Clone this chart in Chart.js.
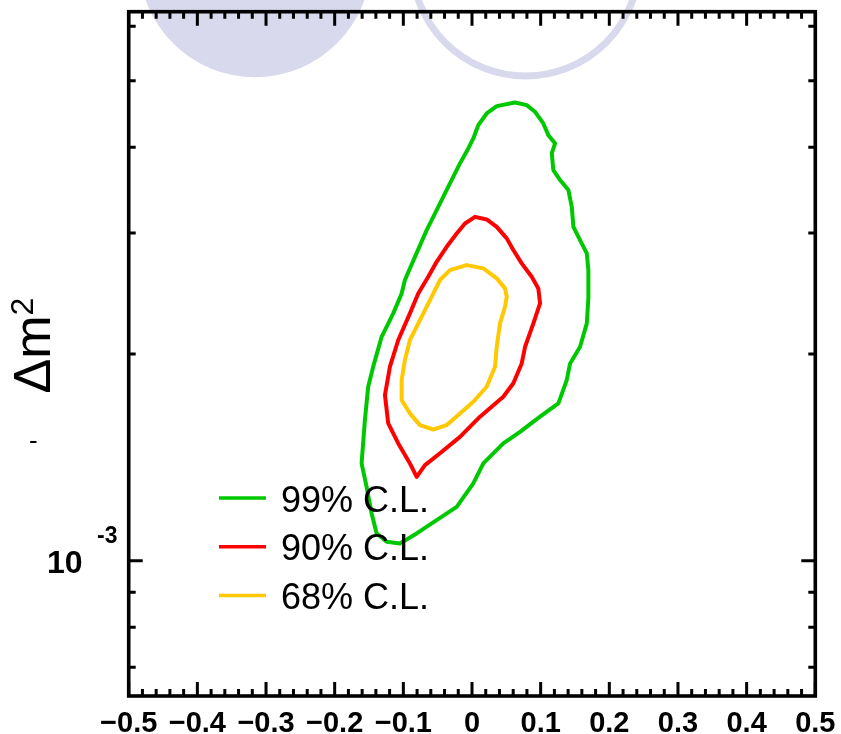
<!DOCTYPE html>
<html>
<head>
<meta charset="utf-8">
<script src="https://cdn.jsdelivr.net/npm/chart.js@4.4.0/dist/chart.umd.min.js"></script>
<style>
html,body{margin:0;padding:0;background:#ffffff;}
#wrap{width:841px;height:734px;position:relative;}
canvas{display:block;}
</style>
</head>
<body>
<div id="wrap"><canvas id="c" width="841" height="734"></canvas></div>
<script>
// ---------------- data ----------------
const seriesLabels = ["99% C.L.", "90% C.L.", "68% C.L."];

// 99% C.L. contour (x = parameter, y = Δm²)
const cl99X = [0.0627,0.0797,0.0918,0.1039,0.1112,0.1210,0.1162,0.1185,0.1283,0.1404,
  0.1453,0.1477,0.1574,0.1672,0.1695,0.1695,0.1672,0.1574,0.1429,0.1380,
  0.1258,0.0991,0.0700,0.0456,0.0165,0.0019,-0.0223,-0.0515,-0.0806,-0.1050,
  -0.1243,-0.1389,-0.1462,-0.1535,-0.1608,-0.1560,-0.1512,-0.1439,-0.1316,-0.1147,
  -0.1025,-0.0977,-0.0831,-0.0660,-0.0491,-0.0321,-0.0175,-0.0054,0.0019,0.0092,
  0.0214,0.0360];
const cl99Y = [4.647e-3,4.606e-3,4.504e-3,4.332e-3,4.165e-3,4.052e-3,3.917e-3,3.705e-3,3.583e-3,3.465e-3,
  3.276e-3,3.063e-3,2.930e-3,2.803e-3,2.649e-3,2.412e-3,2.216e-3,2.049e-3,1.938e-3,1.832e-3,
  1.695e-3,1.621e-3,1.541e-3,1.482e-3,1.386e-3,1.296e-3,1.198e-3,1.146e-3,1.096e-3,1.060e-3,
  1.066e-3,1.096e-3,1.172e-3,1.281e-3,1.386e-3,1.603e-3,1.792e-3,1.917e-3,2.119e-3,2.292e-3,
  2.450e-3,2.563e-3,2.770e-3,3.029e-3,3.276e-3,3.543e-3,3.789e-3,3.984e-3,4.119e-3,4.307e-3,
  4.479e-3,4.591e-3];

// 90% C.L. contour
const cl90X = [0.0044,0.0214,0.0360,0.0506,0.0602,0.0724,0.0870,0.0966,0.0991,0.0894,
  0.0773,0.0724,0.0602,0.0456,0.0117,-0.0175,-0.0466,-0.0685,-0.0806,-0.0904,
  -0.1074,-0.1220,-0.1268,-0.1195,-0.1074,-0.0904,-0.0783,-0.0637,-0.0515,-0.0369,
  -0.0223,-0.0102];
const cl90Y = [3.167e-3,3.140e-3,3.063e-3,2.947e-3,2.834e-3,2.710e-3,2.591e-3,2.492e-3,2.370e-3,2.216e-3,
  2.049e-3,1.938e-3,1.813e-3,1.733e-3,1.621e-3,1.515e-3,1.434e-3,1.378e-3,1.325e-3,1.386e-3,
  1.482e-3,1.585e-3,1.743e-3,1.917e-3,2.096e-3,2.292e-3,2.450e-3,2.591e-3,2.724e-3,2.865e-3,
  2.996e-3,3.098e-3];

// 68% C.L. contour
const cl68X = [-0.0077,0.0165,0.0360,0.0481,0.0506,0.0481,0.0408,0.0360,0.0335,0.0214,
  0.0019,-0.0175,-0.0369,-0.0564,-0.0758,-0.0904,-0.1025,-0.1025,-0.0977,-0.0904,
  -0.0758,-0.0612,-0.0466,-0.0321];
const cl68Y = [2.694e-3,2.665e-3,2.577e-3,2.492e-3,2.423e-3,2.343e-3,2.216e-3,2.049e-3,1.917e-3,1.792e-3,
  1.704e-3,1.639e-3,1.576e-3,1.553e-3,1.576e-3,1.639e-3,1.714e-3,1.832e-3,1.960e-3,2.096e-3,
  2.240e-3,2.396e-3,2.563e-3,2.649e-3];

// partially visible circles at top edge (centres)
const filledCircleX = [-0.316];
const filledCircleY = [7.46e-3];
const openCircleX = [0.078];
const openCircleY = [7.43e-3];

// axes
const xMin = -0.5, xMax = 0.5;
const yMin = 6.356e-4, yMax = 6.30e-3;
const xMajorTicks = [-0.5,-0.4,-0.3,-0.2,-0.1,0,0.1,0.2,0.3,0.4,0.5];
const xTickLabels = ["\u22120.5","\u22120.4","\u22120.3","\u22120.2","\u22120.1","0","0.1","0.2","0.3","0.4","0.5"];
const xMinorStep = 0.02;
const yMajorTicks = [1e-3];
const yMinorTicks = [7e-4,8e-4,9e-4,2e-3,3e-3,4e-3,5e-3,6e-3];
const yTickBase = "10";
const yTickExp = "-3";
const yTitleMain = "\u0394m";
const yTitleSup = "2";

// ---------------- build ----------------
function closed(xs, ys){
  const pts = xs.map((v,i)=>({x:v, y:ys[i]}));
  pts.push({x:xs[0], y:ys[0]});
  return pts;
}
const colors = ["#00c800", "#ff0000", "#ffc800"];
const lavender = "#d9d9ed";

const contourDS = (data, color, label) => ({
  type:'scatter', label, data, showLine:true, borderColor:color, backgroundColor:color,
  borderWidth:4, pointRadius:0, pointHoverRadius:0, tension:0,
  borderJoinStyle:'round', borderCapStyle:'round'
});

const framePlugin = {
  id:'framePlugin',
  afterDraw(chart){
    const ctx = chart.ctx;
    const a = chart.chartArea;
    const xs = chart.scales.x, ys = chart.scales.y;
    ctx.save();
    ctx.strokeStyle = '#000';
    ctx.fillStyle = '#000';
    ctx.lineCap = 'butt';
    const major = 14, minor = 7;
    ctx.lineWidth = 3;
    ctx.beginPath();
    // x ticks (bottom & top, pointing inward)
    const nMinor = Math.round((xMax - xMin)/xMinorStep);
    for(let i=0;i<=nMinor;i++){
      const v = xMin + i*xMinorStep;
      const px = xs.getPixelForValue(v);
      const isMajor = (i % 5) === 0;
      const L = isMajor ? major : minor;
      ctx.moveTo(px, a.bottom); ctx.lineTo(px, a.bottom - L);
      ctx.moveTo(px, a.top); ctx.lineTo(px, a.top + L);
    }
    // y ticks (left & right)
    yMajorTicks.forEach(v=>{
      const py = ys.getPixelForValue(v);
      ctx.moveTo(a.left, py); ctx.lineTo(a.left + major, py);
      ctx.moveTo(a.right, py); ctx.lineTo(a.right - major, py);
    });
    yMinorTicks.forEach(v=>{
      const py = ys.getPixelForValue(v);
      ctx.moveTo(a.left, py); ctx.lineTo(a.left + minor, py);
      ctx.moveTo(a.right, py); ctx.lineTo(a.right - minor, py);
    });
    ctx.stroke();
    // frame
    ctx.lineWidth = 3.6;
    ctx.strokeRect(a.left, a.top, a.right - a.left, a.bottom - a.top);

    // x tick labels
    ctx.font = 'bold 29px "Liberation Sans", Arial, sans-serif';
    ctx.textAlign = 'center';
    ctx.textBaseline = 'alphabetic';
    xMajorTicks.forEach((v,i)=>{
      ctx.fillText(xTickLabels[i], xs.getPixelForValue(v), a.bottom + 35.5);
    });

    // y tick label 10^-3
    const p3 = ys.getPixelForValue(yMajorTicks[0]);
    ctx.textAlign = 'left';
    ctx.font = 'bold 32px "Liberation Sans", Arial, sans-serif';
    ctx.fillText(yTickBase, 47, p3 + 12.5);
    ctx.font = 'bold 23px "Liberation Sans", Arial, sans-serif';
    ctx.fillText(yTickExp, 97, p3 - 17.5);

    // y title (rotated)
    ctx.save();
    ctx.translate(50, 393.5);
    ctx.rotate(-Math.PI/2);
    ctx.font = '52px "Liberation Sans", Arial, sans-serif';
    ctx.textAlign = 'left';
    ctx.fillText(yTitleMain, 0, 0);
    const w = ctx.measureText(yTitleMain).width;
    ctx.font = '32px "Liberation Sans", Arial, sans-serif';
    ctx.fillText(yTitleSup, w, -17);
    ctx.restore();

    // small stray mark left of the axis title
    ctx.font = '26px "Liberation Sans", Arial, sans-serif';
    ctx.fillText("-", 29, 449);

    // legend
    ctx.font = '36px "Liberation Sans", Arial, sans-serif';
    ctx.textAlign = 'left';
    seriesLabels.forEach((lab,i)=>{
      const ly = 498 + i*48.7;
      ctx.strokeStyle = colors[i];
      ctx.lineWidth = 3.5;
      ctx.beginPath();
      ctx.moveTo(219, ly); ctx.lineTo(266, ly);
      ctx.stroke();
      ctx.fillStyle = '#000';
      ctx.fillText(lab, 281, ly + 13.5);
    });
    ctx.restore();
  }
};

new Chart(document.getElementById('c'), {
  type:'scatter',
  data:{
    datasets:[
      contourDS(closed(cl99X, cl99Y), colors[0], seriesLabels[0]),
      contourDS(closed(cl90X, cl90Y), colors[1], seriesLabels[1]),
      contourDS(closed(cl68X, cl68Y), colors[2], seriesLabels[2]),
      { type:'scatter', label:'open', data: openCircleX.map((v,i)=>({x:v,y:openCircleY[i]})),
        pointRadius:113.5, pointHoverRadius:113.5, pointBorderWidth:7, pointBorderColor:lavender,
        pointBackgroundColor:'rgba(0,0,0,0)', clip:false },
      { type:'scatter', label:'filled', data: filledCircleX.map((v,i)=>({x:v,y:filledCircleY[i]})),
        pointRadius:116, pointHoverRadius:116, pointBorderWidth:0, pointBackgroundColor:lavender,
        pointBorderColor:lavender, clip:false }
    ]
  },
  options:{
    responsive:false,
    animation:false,
    devicePixelRatio:1,
    events:[],
    layout:{ autoPadding:false, padding:{ left:128.7, right:25.7, top:11.7, bottom:38 } },
    plugins:{ legend:{display:false}, tooltip:{enabled:false}, title:{display:false} },
    scales:{
      x:{ type:'linear', min:xMin, max:xMax, bounds:'data', display:false },
      y:{ type:'logarithmic', min:yMin, max:yMax, bounds:'data', display:false }
    }
  },
  plugins:[framePlugin]
});
</script>
</body>
</html>
